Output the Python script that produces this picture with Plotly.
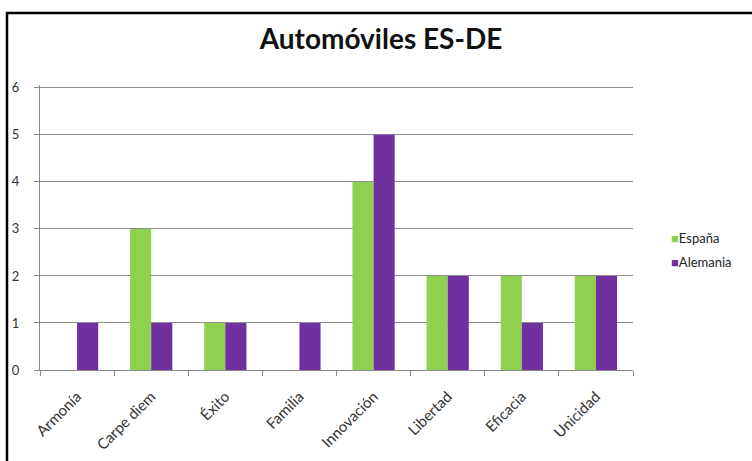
import plotly.graph_objects as go

categories = ["Armonía", "Carpe diem", "Éxito", "Familia", "Innovación", "Libertad", "Eficacia", "Unicidad"]
espana = [0, 3, 1, 0, 4, 2, 2, 2]
alemania = [1, 1, 1, 1, 5, 2, 1, 2]
y_ticks = [0, 1, 2, 3, 4, 5, 6]
series_names = ["España", "Alemania"]
series_colors = ["#8fd14f", "#7030a0"]

W, H = 752, 461
L, R, T, B = 40, 119, 85, 91
pw, ph = W - L - R, H - T - B
YMAX = 6.06

def px(x):
    return (x - L) / pw

def py(y):
    return (H - B - y) / ph

fig = go.Figure()
for name, vals, col in zip(series_names, [espana, alemania], series_colors):
    fig.add_trace(go.Bar(name=name, x=categories, y=vals, showlegend=False,
                         marker=dict(color=col, line=dict(width=0))))

annotations = []
for i, (name, col) in enumerate(zip(series_names, series_colors)):
    annotations.append(dict(
        xref="paper", yref="paper", x=px(669), y=py(238 + 24 * i),
        xanchor="left", yanchor="middle", showarrow=False,
        text=f"<span style='color:{col}'>■</span>{name}",
        font=dict(size=13, color="#222", family="Lato, sans-serif")))

fig.update_layout(
    width=W, height=H,
    margin=dict(l=L, r=R, t=T, b=B, autoexpand=False),
    paper_bgcolor="white", plot_bgcolor="white",
    barmode="group", bargap=0.43, bargroupgap=0,
    font=dict(family="Lato, Open Sans, sans-serif", size=14, color="#333"),
    title=dict(text="<b>Automóviles ES-DE</b>", x=px(381), xref="paper",
               xanchor="center", y=1 - 39 / H, yanchor="middle",
               font=dict(size=28, color="#111", family="Lato, sans-serif")),
    annotations=annotations,
    xaxis=dict(type="category", tickangle=-45, showgrid=False, automargin=False,
               showline=True, linecolor="#888", linewidth=1,
               ticks="outside", ticklen=5, tickcolor="#888", tickson="boundaries",
               ticklabelstandoff=11,
               tickfont=dict(size=15, color="#333")),
    yaxis=dict(range=[0, YMAX], tickvals=y_ticks, showgrid=True, gridcolor="#8c8c8c",
               gridwidth=1, showline=True, linecolor="#888", linewidth=1,
               ticks="outside", ticklen=5, tickcolor="#888", zeroline=False,
               ticklabelstandoff=12, automargin=False,
               tickfont=dict(size=13, color="#333")),
    shapes=[dict(type="rect", xref="paper", yref="paper",
                 x0=px(7), x1=px(W + 10), y0=py(H + 10), y1=py(13),
                 line=dict(color="black", width=2.5), layer="above")],
)

fig.write_html("out.html")
